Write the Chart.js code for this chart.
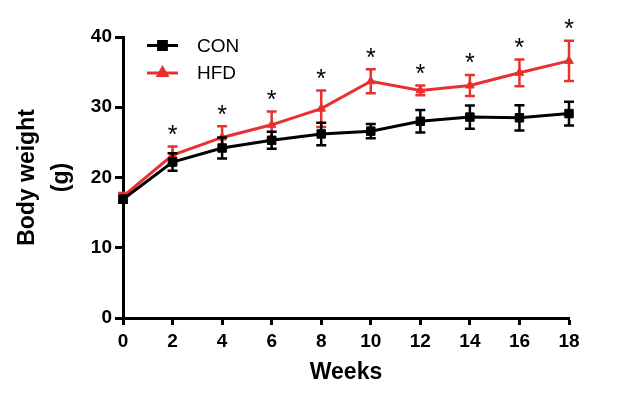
<!DOCTYPE html>
<html>
<head>
<meta charset="utf-8">
<script src="https://cdn.jsdelivr.net/npm/chart.js@4/dist/chart.umd.min.js"></script>
<style>
  html, body { margin: 0; padding: 0; background: #fff; }
  #wrap { width: 619px; height: 395px; }
</style>
</head>
<body>
<div id="wrap"><canvas id="c" width="619" height="395"></canvas></div>
<script>
const weeks = [0, 2, 4, 6, 8, 10, 12, 14, 16, 18];
const conMean = [16.9, 22.2, 24.2, 25.3, 26.2, 26.6, 28.0, 28.6, 28.5, 29.1];
const conErr  = [0.5, 1.25, 1.5, 1.2, 1.6, 1.0, 1.6, 1.65, 1.8, 1.7];
const hfdMean = [17.3, 23.2, 25.7, 27.5, 29.8, 33.7, 32.4, 33.1, 34.9, 36.6];
const hfdErr  = [0.5, 1.2, 1.6, 1.9, 2.6, 1.7, 0.7, 1.5, 1.9, 2.85];
const sigMarks = ['', '*', '*', '*', '*', '*', '*', '*', '*', '*'];
const seriesNames = ['CON', 'HFD'];
const yTicks = [0, 10, 20, 30, 40];
const xTicks = [0, 2, 4, 6, 8, 10, 12, 14, 16, 18];

const BLACK = '#000000';
const RED = '#E8302E';
const errs = [conErr, hfdErr];

const errorBars = {
  id: 'errorBars',
  afterDatasetDraw(chart, args) {
    const i = args.index;
    const ds = chart.data.datasets[i];
    const e = errs[i];
    const meta = args.meta;
    const ys = chart.scales.y;
    const ctx = chart.ctx;
    ctx.save();
    ctx.strokeStyle = ds.borderColor;
    ctx.lineWidth = 2.5;
    meta.data.forEach((pt, k) => {
      const v = ds.data[k].y;
      const top = ys.getPixelForValue(v + e[k]);
      const bot = ys.getPixelForValue(v - e[k]);
      const x = pt.x;
      ctx.beginPath();
      ctx.moveTo(x, top); ctx.lineTo(x, bot);
      ctx.moveTo(x - 5, top); ctx.lineTo(x + 5, top);
      ctx.moveTo(x - 5, bot); ctx.lineTo(x + 5, bot);
      ctx.stroke();
    });
    ctx.restore();
  }
};

const extras = {
  id: 'extras',
  afterDraw(chart) {
    const ctx = chart.ctx;
    const xs = chart.scales.x, ys = chart.scales.y;
    ctx.save();
    // significance asterisks
    ctx.fillStyle = '#000';
    ctx.font = '25px "Liberation Sans", Arial, sans-serif';
    ctx.textAlign = 'center';
    ctx.textBaseline = 'alphabetic';
    weeks.forEach((w, k) => {
      if (!sigMarks[k]) return;
      const x = xs.getPixelForValue(w);
      const top = ys.getPixelForValue(hfdMean[k] + hfdErr[k]);
      ctx.fillText(sigMarks[k], x, top - 3.5);
    });
    // legend
    const items = [
      { y: 45.5, color: BLACK, style: 'rect' },
      { y: 73, color: RED, style: 'triangle' }
    ];
    items.forEach((it, k) => {
      ctx.strokeStyle = it.color;
      ctx.fillStyle = it.color;
      ctx.lineWidth = 3;
      ctx.beginPath();
      ctx.moveTo(147, it.y); ctx.lineTo(178, it.y);
      ctx.stroke();
      Chart.helpers.drawPoint(ctx, {
        pointStyle: it.style, radius: it.style === 'rect' ? 5.5 : 5, borderWidth: 1, rotation: 0
      }, 162.5, it.y);
      ctx.fillStyle = '#000';
      ctx.font = '19px "Liberation Sans", Arial, sans-serif';
      ctx.textAlign = 'left';
      ctx.textBaseline = 'middle';
      ctx.fillText(seriesNames[k], 197, it.y + 1);
    });
    ctx.restore();
  }
};

const tickFont = { family: '"Liberation Sans", Arial, sans-serif', size: 19, weight: 'bold' };

new Chart(document.getElementById('c'), {
  type: 'line',
  data: {
    datasets: [
      {
        label: seriesNames[0],
        data: weeks.map((w, k) => ({ x: w, y: conMean[k] })),
        borderColor: BLACK, backgroundColor: BLACK,
        borderWidth: 3, pointStyle: 'rect', pointRadius: 6, pointBorderWidth: 1,
        tension: 0, clip: false
      },
      {
        label: seriesNames[1],
        data: weeks.map((w, k) => ({ x: w, y: hfdMean[k] })),
        borderColor: RED, backgroundColor: RED,
        borderWidth: 3, pointStyle: 'triangle', pointRadius: 5, pointBorderWidth: 1,
        tension: 0, clip: false
      }
    ]
  },
  options: {
    responsive: false,
    animation: false,
    devicePixelRatio: 1,
    layout: { padding: { left: 0, top: 37, right: 50, bottom: 0 } },
    plugins: { legend: { display: false }, tooltip: { enabled: false } },
    scales: {
      x: {
        type: 'linear', min: 0, max: 18,
        afterBuildTicks(s) { s.ticks = xTicks.map(v => ({ value: v })); },
        afterFit(s) { s.height = 77; },
        border: { color: '#000', width: 3 },
        grid: { drawOnChartArea: false, drawTicks: true, tickLength: 7, tickColor: '#000', tickWidth: 3 },
        ticks: { color: '#000', font: tickFont, padding: 5, maxRotation: 0 },
        title: {
          display: true, text: 'Weeks', color: '#000',
          font: { family: '"Liberation Sans", Arial, sans-serif', size: 23, weight: 'bold' },
          padding: { top: 0, bottom: 9 }
        }
      },
      y: {
        min: 0, max: 40,
        afterBuildTicks(s) { s.ticks = yTicks.map(v => ({ value: v })); },
        afterFit(s) { s.width = 123; },
        border: { color: '#000', width: 3 },
        grid: { drawOnChartArea: false, drawTicks: true, tickLength: 8, tickColor: '#000', tickWidth: 3 },
        ticks: { color: '#000', font: tickFont, padding: 3 },
        title: {
          display: true, text: ['Body weight', '(g)'], color: '#000',
          font: { family: '"Liberation Sans", Arial, sans-serif', size: 23, weight: 'bold', lineHeight: 1.48 },
          padding: { top: 11, bottom: 0 }
        }
      }
    }
  },
  plugins: [errorBars, extras]
});
</script>
</body>
</html>
